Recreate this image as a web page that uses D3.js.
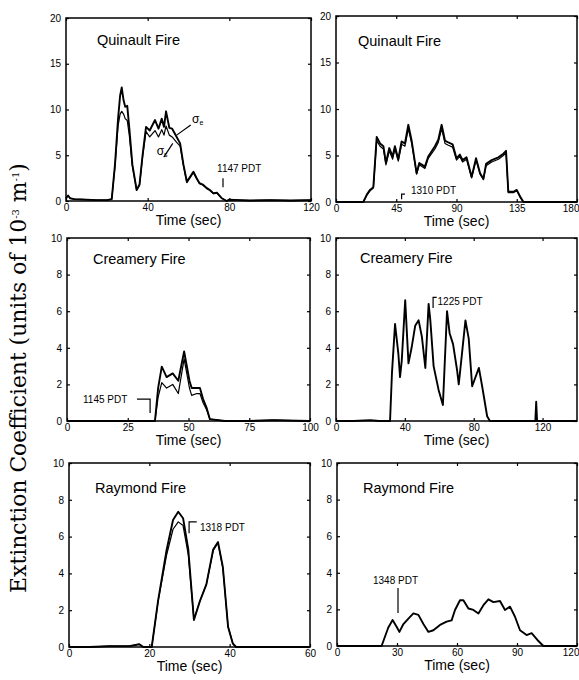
<!DOCTYPE html>
<html>
<head>
<meta charset="utf-8">
<script src="https://cdn.jsdelivr.net/npm/d3@7"></script>
<style>
  body { margin: 0; background: #fff; }
  svg text { font-family: "Liberation Sans", Arial, sans-serif; fill: #000; }
  .tick text { font-size: 10px; }
  .frame { fill: none; stroke: #000; stroke-width: 1.5; }
  .trace { fill: none; stroke: #000; stroke-width: 1.9; stroke-linejoin: round; }
  .trace2 { fill: none; stroke: #000; stroke-width: 1.2; stroke-linejoin: round; }
  .lead { fill: none; stroke: #000; stroke-width: 1.2; }
</style>
</head>
<body>
<svg id="chart" width="579" height="680"></svg>
<script>
// ---- data ----
// Quinault Fire, first run (0-120 s)
const q1Time = [0, 1, 2, 4, 10, 15, 20, 22.4, 24, 25.5, 26.5, 27.3, 28.2, 29, 30, 31, 32.5, 34.6, 36, 37.5, 39.2, 41, 43.6, 45.3, 46.9, 48, 49, 50.6, 52, 54.2, 55.9, 57.5, 59.2, 62.4, 64, 65.4, 67, 69, 70.5, 72.2, 74, 76.3, 78.7, 80, 85, 90, 100, 110, 120];
const q1Ext  = [0.3, 0.6, 0.3, 0.2, 0.15, 0.1, 0.1, 0.2, 4, 9, 11.5, 12.4, 11, 10.3, 10.4, 8, 4, 1.2, 1.8, 5, 8.1, 7.7, 8.85, 7.9, 9.0, 8.1, 9.8, 8.0, 7.9, 7.0, 6.3, 4, 2.1, 3.2, 2.5, 1.95, 1.8, 1.4, 1.2, 0.84, 0.9, 0.3, 0, 0.15, 0.1, 0.05, 0.1, 0.05, 0.1];
const q1Sca  = [0.3, 0.6, 0.3, 0.2, 0.15, 0.1, 0.1, 0.2, 3.8, 8.2, 9.5, 9.8, 9.5, 9.0, 8.8, 7.2, 3.8, 1.2, 1.7, 4.8, 7.6, 7.0, 7.7, 7.0, 7.8, 7.2, 8.2, 7.2, 7.0, 6.4, 6.0, 3.9, 2.0, 3.1, 2.4, 1.9, 1.75, 1.35, 1.15, 0.8, 0.85, 0.3, 0, 0.15, 0.1, 0.05, 0.1, 0.05, 0.1];

// Quinault Fire, second run (0-180 s)
const q2Time = [0, 10, 20.4, 23, 25.4, 27.9, 30.4, 32.9, 35.4, 37.3, 39.8, 42.3, 44, 46.5, 49, 51.5, 54, 56.5, 60.2, 62.2, 66.4, 68.9, 73.9, 76.4, 78.9, 81.4, 83.9, 87.1, 90, 92.5, 94.5, 97.5, 101.3, 104.6, 107.6, 110.1, 112.1, 116.3, 121.3, 125, 127, 128.7, 132.5, 135, 137.5, 140, 150, 160, 170, 180];
const q2Ext  = [0, 0, 0, 0.8, 1.3, 1.6, 7.0, 6.3, 6.0, 4.2, 5.8, 4.9, 6.0, 4.6, 6.5, 6.3, 8.3, 6.6, 3.1, 4.2, 3.8, 4.9, 6.0, 6.7, 8.3, 6.6, 6.4, 6.2, 4.7, 5.1, 4.5, 4.8, 2.7, 4.7, 3.1, 2.5, 4.1, 4.5, 4.8, 5.2, 5.5, 1.1, 1.1, 1.3, 0.6, 0, 0, 0, 0, 0];
const q2Sca  = [0, 0, 0, 0.7, 1.2, 1.5, 6.6, 6.0, 5.7, 4.0, 5.5, 4.6, 5.7, 4.4, 6.2, 6.0, 7.9, 6.3, 3.0, 4.0, 3.6, 4.7, 5.7, 6.4, 7.9, 6.3, 6.1, 5.9, 4.5, 4.9, 4.3, 4.6, 2.6, 4.5, 3.0, 2.4, 3.9, 4.3, 4.6, 5.0, 5.3, 1.0, 1.0, 1.2, 0.5, 0, 0, 0, 0, 0];

// Creamery Fire, first run (0-100 s)
const c1Time = [0, 10, 20, 30, 36.2, 37.5, 39, 41, 43.5, 45.8, 48.2, 50.4, 51.3, 53.4, 54.7, 56, 57.5, 58.8, 65, 75, 85, 100];
const c1Ext  = [0, 0, 0, 0, 0, 1.8, 2.97, 2.4, 2.6, 2.2, 3.8, 2.2, 1.8, 1.8, 1.8, 1.2, 0.7, 0.1, 0, 0, 0.05, 0];
const c1Sca  = [0, 0, 0, 0, 0, 1.3, 2.1, 1.8, 2.0, 1.5, 3.4, 1.8, 1.4, 1.5, 1.5, 1.0, 0.6, 0.1, 0, 0, 0.05, 0];

// Creamery Fire, second run (0-140 s)
const c2Time = [0, 10, 20, 25, 31.4, 32.5, 34.3, 36.2, 37.2, 38.2, 40.2, 42.1, 44.1, 46, 48, 49.9, 51.9, 53.8, 54.8, 56.7, 59.6, 62.1, 64.5, 66, 68, 70.3, 71.3, 73.2, 75.2, 77.1, 79.1, 83, 84.9, 87.8, 89.4, 100, 110, 115.8, 116.3, 116.8, 125, 140];
const c2Ext  = [0, 0, 0.05, 0, 0, 2.6, 5.3, 3.7, 2.4, 3.3, 6.6, 3.15, 4.1, 5.2, 5.5, 4.6, 2.9, 6.4, 5.5, 3.0, 1.7, 0.87, 6.0, 4.8, 4.2, 2.8, 2.0, 3.7, 5.5, 4.5, 1.9, 2.9, 1.9, 0.26, 0, 0, 0, 0, 1.05, 0, 0, 0];

// Raymond Fire, first run (0-60 s)
const r1Time = [0, 5, 10, 15, 17.5, 18.5, 20.6, 22.2, 24.3, 25.9, 27.2, 28.4, 29.7, 31.1, 32.6, 34.2, 35.9, 37.1, 38.3, 39.6, 40.8, 41.6, 50, 60];
const r1Ext  = [0, 0, 0.05, 0.05, 0.15, 0, 0, 2.55, 5.27, 6.9, 7.35, 7.0, 5.3, 1.47, 2.5, 3.4, 5.3, 5.7, 4.35, 1.1, 0.18, 0, 0, 0];
const r1Sca  = [0, 0, 0.05, 0.05, 0.15, 0, 0, 2.5, 5.0, 6.4, 6.8, 6.6, 5.0, 1.5, 2.5, 3.4, 5.25, 5.65, 4.3, 1.1, 0.18, 0, 0, 0];

// Raymond Fire, second run (0-120 s)
const r2Time = [0, 10, 20, 22.3, 25.6, 27.8, 29.8, 31.2, 33.2, 35.7, 38.2, 40.7, 43.2, 45.7, 48.2, 51.5, 54.8, 57.3, 59, 61.5, 63.2, 65.7, 68.2, 70.7, 73.2, 75.7, 78.2, 81.5, 84, 86.5, 89, 91.5, 94.8, 97.3, 100.2, 103.2, 110, 120];
const r2Ext  = [0, 0, 0, 0, 1.0, 1.42, 1.05, 0.77, 1.2, 1.5, 1.78, 1.7, 1.2, 0.77, 0.86, 1.15, 1.33, 1.4, 1.97, 2.5, 2.5, 2.05, 1.97, 1.78, 2.23, 2.55, 2.4, 2.46, 1.97, 2.15, 1.6, 0.86, 0.6, 0.7, 0.33, 0, 0, 0];

// tick labels
const ticksX = [[0, 40, 80, 120], [0, 45, 90, 135, 180], [0, 25, 50, 75, 100], [0, 40, 80, 120], [0, 20, 40, 60], [0, 30, 60, 90, 120]];
const ticksY20 = [0, 5, 10, 15, 20];
const ticksY10 = [0, 2, 4, 6, 8, 10];
const titles = ["Quinault Fire", "Quinault Fire", "Creamery Fire", "Creamery Fire", "Raymond Fire", "Raymond Fire"];
const timeNames = ["1147 PDT", "1310 PDT", "1145 PDT", "1225 PDT", "1318 PDT", "1348 PDT"];

const svg = d3.select("#chart");

// panel frames (pixels) and title offsets
const panels = [
  { left: 66, right: 311, top: 18, bottom: 201, tx: 31, ty: 27, xMax: 120, yMax: 20, yTicks: ticksY20, series: [[q1Time, q1Ext], [q1Time, q1Sca]] },
  { left: 336, right: 577, top: 16, bottom: 202, tx: 22, ty: 30, xMax: 180, yMax: 20, yTicks: ticksY20, series: [[q2Time, q2Ext], [q2Time, q2Sca]] },
  { left: 67, right: 310, top: 238, bottom: 421, tx: 26, ty: 26, xMax: 100, yMax: 10, yTicks: ticksY10, series: [[c1Time, c1Ext], [c1Time, c1Sca]] },
  { left: 336, right: 577, top: 238, bottom: 421, tx: 24, ty: 25, xMax: 140, yMax: 10, yTicks: ticksY10, series: [[c2Time, c2Ext]] },
  { left: 69, right: 310, top: 463, bottom: 647, tx: 26, ty: 30, xMax: 60, yMax: 10, yTicks: ticksY10, series: [[r1Time, r1Ext], [r1Time, r1Sca]] },
  { left: 337, right: 577, top: 463, bottom: 646, tx: 26, ty: 30, xMax: 120, yMax: 10, yTicks: ticksY10, series: [[r2Time, r2Ext]] }
];

// annotation placement in data units: label position + leader segments
const notes = [
  { text: [74, 3.15], lines: [[[76.9, 2.5], [76.9, 1.5]]] },
  { text: [56, 0.85], lines: [[[49, 0.3], [49, 0.85], [51.5, 0.85]]] },
  { text: [6.6, 1.0], lines: [[[28.8, 1.2], [34.2, 1.2], [34.2, 0.44]]] },
  { text: [59, 6.34], lines: [[[58.5, 6.76], [56.4, 6.76], [56.4, 6.17]]] },
  { text: [32.6, 6.3], lines: [[[31.8, 6.8], [29.9, 6.8], [29.9, 6.18]]] },
  { text: [18, 3.4], lines: [[[30.5, 3.17], [30.5, 1.8]]] }
];

panels.forEach(function(p, i) {
  const x = d3.scaleLinear().domain([0, p.xMax]).range([p.left, p.right]);
  const y = d3.scaleLinear().domain([0, p.yMax]).range([p.bottom, p.top]);
  const g = svg.append("g");

  // axes with inward ticks
  const xAxis = g.append("g")
    .attr("transform", "translate(0," + p.bottom + ")")
    .call(d3.axisBottom(x).tickValues(ticksX[i]).tickSize(-3).tickSizeOuter(0).tickPadding(3));
  g.append("g")
    .attr("transform", "translate(" + p.left + ",0)")
    .call(d3.axisLeft(y).tickValues(p.yTicks).tickSize(-3).tickSizeOuter(0).tickPadding(5));
  g.append("g")
    .attr("transform", "translate(0," + p.top + ")")
    .call(d3.axisTop(x).tickValues(ticksX[i]).tickSize(-3).tickSizeOuter(0).tickFormat(""));
  g.append("g")
    .attr("transform", "translate(" + p.right + ",0)")
    .call(d3.axisRight(y).tickValues(p.yTicks).tickSize(-3).tickSizeOuter(0).tickFormat(""));
  g.selectAll(".domain").remove();
  g.selectAll(".tick line").attr("stroke-width", 1.2);
  g.selectAll(".tick text").attr("fill", "#000");

  // keep the last label on the page's right edge
  if (p.right > 570) {
    xAxis.selectAll(".tick text")
      .filter(function(d) { return d === p.xMax; })
      .attr("text-anchor", "end")
      .attr("dx", 2);
  }

  g.append("rect")
    .attr("class", "frame")
    .attr("x", p.left).attr("y", p.top)
    .attr("width", p.right - p.left).attr("height", p.bottom - p.top);

  const line = d3.line()
    .x(function(d) { return x(d[0]); })
    .y(function(d) { return y(d[1]); });

  p.series.forEach(function(s, k) {
    g.append("path")
      .datum(d3.zip(s[0], s[1]))
      .attr("class", k === 0 ? "trace" : "trace2")
      .attr("d", line);
  });

  // panel title
  g.append("text")
    .attr("x", p.left + p.tx)
    .attr("y", p.top + p.ty)
    .attr("font-size", 14.5)
    .text(titles[i]);

  // axis title
  g.append("text")
    .attr("x", (p.left + p.right) / 2)
    .attr("y", p.bottom + 24)
    .attr("text-anchor", "middle")
    .attr("font-size", 14)
    .text("Time (sec)");

  // time-of-day annotation
  const n = notes[i];
  g.append("text")
    .attr("x", x(n.text[0]))
    .attr("y", y(n.text[1]))
    .attr("font-size", 10)
    .text(timeNames[i]);
  n.lines.forEach(function(l) {
    g.append("path")
      .datum(l)
      .attr("class", "lead")
      .attr("d", line);
  });

  // sigma labels on the first panel
  if (i === 0) {
    const sig = [
      { name: "e", at: [61.7, 8.5], lead: [[54.2, 7.2], [61.1, 8.3]] },
      { name: "s", at: [44.4, 5.0], lead: [[47.9, 4.8], [52.3, 6.3]] }
    ];
    sig.forEach(function(s) {
      const t = g.append("text")
        .attr("x", x(s.at[0]))
        .attr("y", y(s.at[1]))
        .attr("font-size", 12);
      t.append("tspan").text("σ");
      t.append("tspan").attr("font-size", 7).attr("dy", 2).text(s.name);
      g.append("path").datum(s.lead).attr("class", "lead").attr("d", line);
    });
  }
});

// shared y-axis title
const yTitle = svg.append("text")
  .attr("transform", "translate(26,378) rotate(-90)")
  .attr("text-anchor", "middle")
  .style("font-family", "'DejaVu Serif', 'Liberation Serif', serif")
  .attr("font-size", 16);
yTitle.append("tspan").text("Extinction Coefficient (units of 10");
yTitle.append("tspan").attr("font-size", 10).attr("dy", -7).text("-3");
yTitle.append("tspan").attr("dy", 7).text(" m");
yTitle.append("tspan").attr("font-size", 10).attr("dy", -7).text("-1");
yTitle.append("tspan").attr("dy", 7).text(")");
const len = yTitle.node().getComputedTextLength();
if (len > 0) yTitle.attr("font-size", 16 * 437 / len);
</script>
</body>
</html>
